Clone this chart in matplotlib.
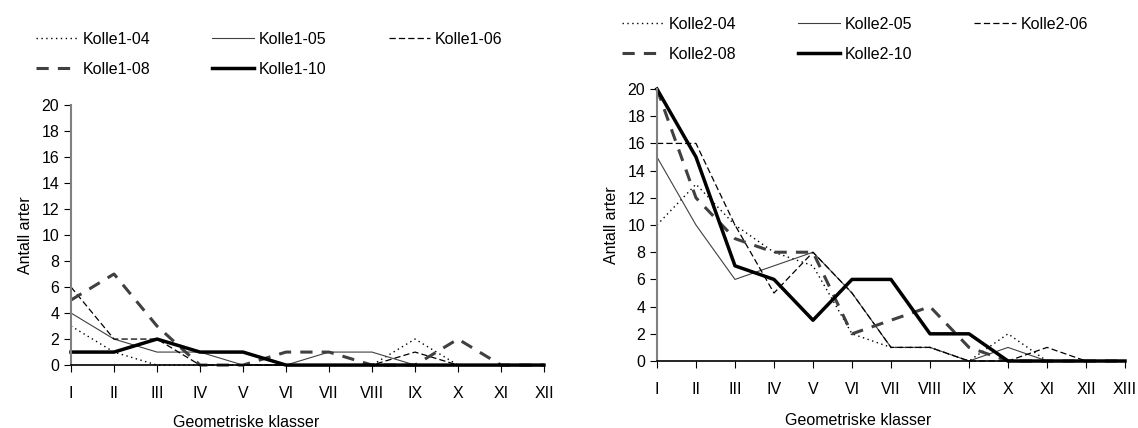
import matplotlib.pyplot as plt

plt.rcParams['font.family'] = ['Liberation Sans', 'DejaVu Sans']
plt.rcParams['font.size'] = 11.5

# Data
classes1 = ['I', 'II', 'III', 'IV', 'V', 'VI', 'VII', 'VIII', 'IX', 'X', 'XI', 'XII']
kolle1_04 = [3, 1, 0, 0, 0, 0, 0, 0, 2, 0, 0, 0]
kolle1_05 = [4, 2, 1, 1, 0, 0, 1, 1, 0, 0, 0, 0]
kolle1_06 = [6, 2, 2, 0, 0, 0, 0, 0, 1, 0, 0, 0]
kolle1_08 = [5, 7, 3, 0, 0, 1, 1, 0, 0, 2, 0, 0]
kolle1_10 = [1, 1, 2, 1, 1, 0, 0, 0, 0, 0, 0, 0]

classes2 = ['I', 'II', 'III', 'IV', 'V', 'VI', 'VII', 'VIII', 'IX', 'X', 'XI', 'XII', 'XIII']
kolle2_04 = [10, 13, 10, 8, 7, 2, 1, 1, 0, 2, 0, 0, 0]
kolle2_05 = [15, 10, 6, 7, 8, 5, 1, 1, 0, 1, 0, 0, 0]
kolle2_06 = [16, 16, 10, 5, 8, 5, 1, 1, 0, 0, 1, 0, 0]
kolle2_08 = [20, 12, 9, 8, 8, 2, 3, 4, 1, 0, 0, 0, 0]
kolle2_10 = [20, 15, 7, 6, 3, 6, 6, 2, 2, 0, 0, 0, 0]

styles = [
    dict(color='black', lw=1.0, linestyle=(0, (1, 2.5))),
    dict(color='#404040', lw=0.8, linestyle='-'),
    dict(color='black', lw=0.9, linestyle=(0, (5, 2.5))),
    dict(color='#404040', lw=2.2, linestyle=(0, (4, 3))),
    dict(color='black', lw=2.5, linestyle='-'),
]

fig = plt.figure(figsize=(11.38, 4.28), dpi=100)


def draw(ax, classes, series, names, xlabel_x, legend_anchor):
    x = range(len(classes))
    for vals, st, name in zip(series, styles, names):
        ax.plot(x, vals, label=name, **st)
    ax.set_xlim(0, len(classes) - 1)
    ax.set_ylim(0, 20)
    ax.set_yticks(range(0, 21, 2))
    ax.set_xticks(list(x))
    ax.set_xticklabels(classes)
    for s in ['top', 'right']:
        ax.spines[s].set_visible(False)
    ax.spines['left'].set_color('#808080')
    ax.spines['left'].set_linewidth(1.5)
    ax.spines['bottom'].set_linewidth(1.2)
    ax.tick_params(axis='x', direction='out', length=5, pad=10)
    ax.tick_params(axis='y', direction='out', length=5)
    ax.set_ylabel('Antall arter', labelpad=6)
    ax.set_xlabel('Geometriske klasser')
    ax.xaxis.set_label_coords(xlabel_x, -0.19)
    for ln in ax.lines:
        ln.set_clip_on(False)
    # legend filled row by row: 04 05 06 / 08 10
    h, l = ax.get_legend_handles_labels()
    order = [0, 3, 1, 4, 2]
    ax.legend([h[i] for i in order], [l[i] for i in order],
              loc='upper left', bbox_to_anchor=legend_anchor, bbox_transform=fig.transFigure,
              ncol=3, frameon=False, handlelength=2.6, handletextpad=0.3,
              columnspacing=3.9, labelspacing=0.93, borderaxespad=0)


ax1 = fig.add_axes([0.0624, 0.147, 0.4156, 0.608])
draw(ax1, classes1,
     [kolle1_04, kolle1_05, kolle1_06, kolle1_08, kolle1_10],
     ['Kolle1-04', 'Kolle1-05', 'Kolle1-06', 'Kolle1-08', 'Kolle1-10'],
     0.37, (0.026, 0.94))

ax2 = fig.add_axes([0.5773, 0.1565, 0.4113, 0.6355])
draw(ax2, classes2,
     [kolle2_04, kolle2_05, kolle2_06, kolle2_08, kolle2_10],
     ['Kolle2-04', 'Kolle2-05', 'Kolle2-06', 'Kolle2-08', 'Kolle2-10'],
     0.43, (0.541, 0.975))

fig.savefig('out.png', dpi=100)
